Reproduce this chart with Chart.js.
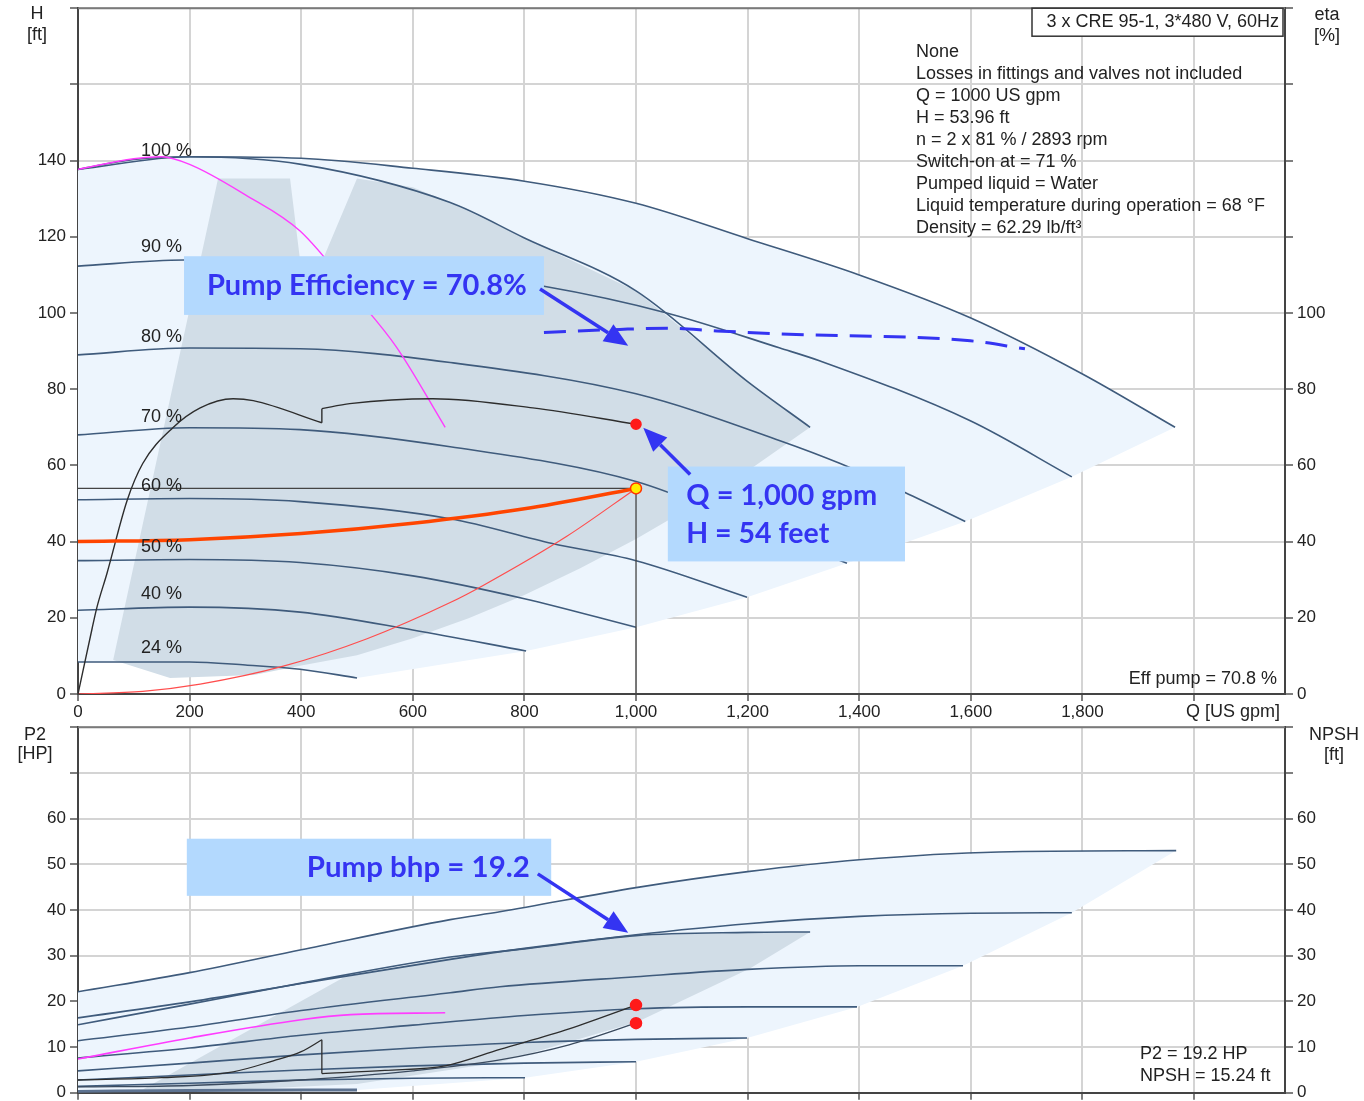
<!DOCTYPE html>
<html>
<head>
<meta charset="utf-8">
<script src="https://cdn.jsdelivr.net/npm/chart.js@4.4.0/dist/chart.umd.min.js"></script>
<style>
body{margin:0;background:#fff;width:1364px;height:1101px;overflow:hidden;position:relative}
#topChart{position:absolute;left:0;top:-6px}
#botChart{position:absolute;left:0;top:713px}
</style>
</head>
<body>
<canvas id="topChart" width="1364" height="731"></canvas>
<canvas id="botChart" width="1364" height="394"></canvas>
<script>
const FONT = '"Liberation Sans", Arial, sans-serif';
const ANNO_FONT = 'bold 28px Lato, "Open Sans", sans-serif';

// axes / ticks
const qMax = 2163;
const qGrid = [0,200,400,600,800,1000,1200,1400,1600,1800,2000];
const qLabels = [0,200,400,600,800,1000,1200,1400,1600,1800];
const hGrid = [0,20,40,60,80,100,120,140,160,180];
const hLabels = [0,20,40,60,80,100,120,140];
const etaLabels = [0,20,40,60,80,100];
const pGrid = [0,10,20,30,40,50,60,70,80];
const pLabels = [0,10,20,30,40,50,60];

// ---- head curves (Q in US gpm, H in ft) ----
const qH100 = [0,100,200,400,600,800,1000,1200,1400,1600,1800,1966];
const hH100 = [137.7,140.3,141,140.6,138,134.6,128.8,119.5,110,98.7,84,70];
const qH2p = [0,200,400,667,800,1000,1200,1312];
const hH2p = [137.7,141,139,129,119.7,105.8,82,70];
const qH1p = [0,100,150,200,300,398,500,571,658];
const hH1p = [137.7,140.5,141,139,131,121.5,104,91,70];
const qH90 = [0,190,400,600,835,1055,1258,1330,1599,1781];
const hH90 = [112.3,113.9,113.5,111.5,107,100,90.8,87.4,71.7,57];
const qH80 = [0,200,398,667,1000,1258,1366,1482,1590];
const hH80 = [89,90.8,90.6,87,78.8,66.5,60.5,52.9,45.3];
const qH70 = [0,200,398,667,1000,1200,1378];
const hH70 = [68,69.9,69.4,64.9,55.8,44.6,34.3];
const qH60 = [0,200,398,667,850,1000,1199];
const hH60 = [51,51.3,50.5,46,39.5,35,25.4];
const qH50 = [0,200,398,600,800,1000];
const hH50 = [35,35.3,34.5,31,25,17.5];
const qH40 = [0,200,398,600,803];
const hH40 = [22,22.8,21.5,16.8,11.3];
const qH24 = [0,200,300,398,500];
const hH24 = [8.4,8.4,7.6,6.5,4.2];

// efficiency (eta %) with switch-on notch
const qEtaA = [0,25,34,52,88,116,170,219,278,314,437];
const etaA = [0,17,22.8,31.7,50.8,60.5,69.9,75.1,77.5,77,71.2];
const qEtaB = [437,487,636,815,1000];
const etaB = [74.9,76.2,77.5,75.1,70.8];
const qEtaJump = [437,437];
const etaJump = [71.2,74.9];

// system curve and control curve
const qSys = [0,116,219,368,518,667,726,876,1000];
const hSys = [0,0.7,2.6,7.3,14.5,24,28.5,41.4,53.96];
const qCtl = [0,200,400,600,800,1000];
const hCtl = [40,40.5,42.1,44.8,48.6,53.96];

// duty point
const qDuty = 1000, hDuty = 53.96, etaDuty = 70.8, p2Duty = 19.2, npshDuty = 15.24;
const qDutyLine = [0,1000,1000];
const hDutyLine = [53.96,53.96,0];

// hand drawn eta marker (dashed)
const qEtaDash = [835,971,1056,1145,1258,1599,1697];
const etaDash = [94.9,95.7,96,95.3,94.5,92.7,90.6];

// shaded ranges
const qRangeAll = [0,100,200,400,600,800,1000,1200,1400,1600,1800,1966,1781,1590,1378,1199,1000,803,500,398,300,200,0];
const hRangeAll = [137.7,140.3,141,140.6,138,134.6,128.8,119.5,110,98.7,84,70,57,45.3,34.3,25.4,17.5,11.3,4.2,6.5,7.6,8.4,8.4];
const qRange2p = [63,251,380,407,500,600,667,800,1000,1200,1312,1200,1100,1000,900,800,700,600,500,400,315,165];
const hRange2p = [8.9,135.3,135.3,103,135.3,133,129,119.7,105.8,82,70,58.5,49.2,40.7,33,26,19.9,14.6,10.2,7.5,5,4.2];

const speedLabels = ['100 %','90 %','80 %','70 %','60 %','50 %','40 %','24 %'];
const speedLabelH = [142.4,117.3,93.7,72.8,54.5,38.7,26.2,12];
const speedLabelQ = 113;

// ---- power curves (P2 in HP) ----
const qP100 = [0,200,400,667,756,1000,1200,1400,1650,1968];
const pP100 = [22.1,26.3,31.3,37.9,39.6,44.9,48.4,51,52.7,53];
const qP90 = [0,200,400,667,800,1000,1200,1400,1600,1781];
const pP90 = [16.4,19.9,23.9,29.2,31.6,34.6,37,38.6,39.3,39.4];
const qP2p = [0,200,400,667,800,1000,1200,1312];
const pP2p = [14.9,19.4,24,29.7,31.5,34.4,35.1,35.2];
const qP80 = [0,200,400,667,756,1000,1200,1400,1586];
const pP80 = [11.4,14.4,18,21.9,23.2,25.4,27,27.8,27.8];
const qP70 = [0,200,400,600,800,1000,1200,1396];
const pP70 = [7.6,9.8,12.6,14.8,16.9,18.4,18.8,18.8];
const qP60 = [0,200,400,600,800,1000,1199];
const pP60 = [4.8,6.5,8.3,9.8,11,11.7,12];
const qP50 = [0,200,400,600,800,1000];
const pP50 = [2.8,3.9,5,5.9,6.5,6.8];
const qP40 = [0,200,400,600,801];
const pP40 = [1.4,2.1,2.8,3.2,3.3];
const qP24 = [0,200,400,500];
const pP24 = [0.3,0.5,0.6,0.6];
const qP1p = [0,200,400,489,658];
const pP1p = [7.4,12,16,17.1,17.5];
const qP2opA = [0,150,278,350,400,437];
const pP2opA = [2.8,3.3,4.6,7,9,11.6];
const qP2opB = [437,550,658,756,880,1000];
const pP2opB = [4.2,4.9,5.9,9.5,14,19.2];
const qP2opJump = [437,437];
const pP2opJump = [11.6,4.2];
const qNpsh = [0,200,400,600,756,880,1000];
const npsh = [1.3,1.6,2.8,4.8,7.2,10.5,15.24];

const qPRangeAll = [0,200,400,667,756,1000,1200,1400,1650,1968,1781,1586,1396,1199,1000,801,500,400,200,0];
const pPRangeAll = [22.1,26.3,31.3,37.9,39.6,44.9,48.4,51,52.7,53,39.4,27.8,18.8,12,6.8,3.3,0.6,0.6,0.5,0.3];
const qPRange2p = [116,475,667,800,1000,1200,1312,1204,1002,756,500,300];
const pPRange2p = [0.7,25.2,29.7,31.5,34.4,35.1,35.2,27.2,15.5,6.7,1.9,0.8];

const infoTitle = '3 x CRE 95-1, 3*480 V, 60Hz';
const infoLines = ['None','Losses in fittings and valves not included','Q = 1000 US gpm','H = 53.96 ft',
  'n = 2 x 81 % / 2893 rpm','Switch-on at = 71 %','Pumped liquid = Water',
  'Liquid temperature during operation = 68 °F','Density = 62.29 lb/ft³'];

// colours
const cLight = '#edf5fd', cGray = '#d1dde7', cCurve = '#3f5b7c', cPink = '#ff3cff';
const cSys = '#ff4d4d', cCtl = '#ff4500', cBlack = '#2d2d2d', cAnno = '#3434f2', cBox = '#b3d9fe';

function zip(qs, vs){ return qs.map((q,i)=>({x:q, y:vs[i]})); }

function curve(qs, vs, color, width, extra){
  return Object.assign({data: zip(qs,vs), borderColor: color, borderWidth: width, pointRadius: 0,
    fill: false, cubicInterpolationMode: 'monotone', order: 10}, extra || {});
}
function straight(qs, vs, color, width, extra){
  return Object.assign({data: zip(qs,vs), borderColor: color, borderWidth: width, pointRadius: 0,
    fill: false, tension: 0, order: 6}, extra || {});
}
function region(qs, vs, color, order){
  return {data: zip(qs,vs), borderColor: 'rgba(0,0,0,0)', borderWidth: 0, backgroundColor: color,
    pointRadius: 0, fill: 'shape', tension: 0, order: order};
}
function dot(q, v, fillC, strokeC, r){
  return {data: [{x:q, y:v}], showLine: false, pointRadius: r, pointBackgroundColor: fillC,
    pointBorderColor: strokeC, pointBorderWidth: 1.5, order: 0};
}

function arrow(ctx, x1, y1, x2, y2){
  const a = Math.atan2(y2-y1, x2-x1), L = 24, W = 10;
  const bx = x2 - L*Math.cos(a), by = y2 - L*Math.sin(a);
  ctx.beginPath(); ctx.moveTo(x1,y1); ctx.lineTo(bx,by); ctx.stroke();
  ctx.beginPath(); ctx.moveTo(x2,y2);
  ctx.lineTo(bx + W*Math.sin(a), by - W*Math.cos(a));
  ctx.lineTo(bx - W*Math.sin(a), by + W*Math.cos(a));
  ctx.closePath(); ctx.fill();
}
// bold label squeezed to the width it has in the picture
function fitText(ctx, s, x, y, w){
  ctx.font = ANNO_FONT;
  const m = ctx.measureText(s).width;
  ctx.save(); ctx.translate(x, y); ctx.scale(w/m, 1); ctx.fillText(s, 0, 0); ctx.restore();
}
function box(ctx, x, y, q0, q1, v0, v1){
  const l = x.getPixelForValue(q0), r = x.getPixelForValue(q1);
  const t = y.getPixelForValue(v0), b = y.getPixelForValue(v1);
  ctx.fillStyle = cBox; ctx.fillRect(l, t, r-l, b-t);
}

function axisCfg(grid, labels, pos, width, showGrid){
  return {
    type: 'linear', position: pos, min: grid[0], max: grid[grid.length-1],
    afterBuildTicks: s => { s.ticks = grid.map(v => ({value: v})); },
    afterFit: s => { s.width = width; },
    ticks: {font: {family: FONT, size: 17}, color: '#222', padding: 4,
      callback: v => labels.includes(v) ? String(v) : ''},
    grid: {display: true, drawOnChartArea: showGrid, color: '#d4d4d4', lineWidth: 2,
      tickLength: 8, tickColor: '#555', tickWidth: 1.5},
    border: {display: true, color: '#444', width: 2}
  };
}
function xCfg(height, showLabels){
  return {
    type: 'linear', position: 'bottom', min: 0, max: qMax,
    afterBuildTicks: s => { s.ticks = qGrid.map(v => ({value: v})); },
    afterFit: s => { s.height = height; },
    ticks: {font: {family: FONT, size: 17}, color: '#222', padding: 1, maxRotation: 0, autoSkip: false,
      callback: v => (showLabels && qLabels.includes(v)) ? v.toLocaleString('en-US') : ''},
    grid: {color: '#d4d4d4', lineWidth: 2, tickLength: 7, tickColor: '#555', tickWidth: 1.5},
    border: {display: true, color: '#444', width: 2}
  };
}

const topDecor = {
  id: 'topDecor',
  afterDraw(chart){
    const {ctx, chartArea: a} = chart;
    const x = chart.scales.x, y = chart.scales.y;
    ctx.save();
    ctx.strokeStyle = '#7a7a7a'; ctx.lineWidth = 2;
    ctx.beginPath(); ctx.moveTo(a.left, a.top); ctx.lineTo(a.right, a.top); ctx.stroke();

    ctx.fillStyle = '#222'; ctx.font = '18px ' + FONT; ctx.textBaseline = 'middle'; ctx.textAlign = 'left';
    speedLabels.forEach((s,i) => ctx.fillText(s, x.getPixelForValue(speedLabelQ), y.getPixelForValue(speedLabelH[i])));

    // info block
    ctx.fillStyle = '#fff'; ctx.fillRect(a.right-253, a.top, 251, 28);
    ctx.strokeStyle = '#333'; ctx.lineWidth = 1.5; ctx.strokeRect(a.right-253, a.top, 251, 28);
    ctx.fillStyle = '#222'; ctx.textAlign = 'right';
    ctx.fillText(infoTitle, a.right-6, a.top+14);
    ctx.textAlign = 'left';
    infoLines.forEach((s,i) => ctx.fillText(s, a.right-369, a.top+44+22*i));
    ctx.textAlign = 'right';
    ctx.fillText('Eff pump = 70.8 %', a.right-8, a.bottom-15);
    ctx.fillText('Q [US gpm]', a.right-5, a.bottom+18);
    ctx.textAlign = 'center';
    ctx.fillText('H', 37, a.top+6); ctx.fillText('[ft]', 37, a.top+27);
    ctx.fillText('eta', 1327, a.top+7); ctx.fillText('[%]', 1327, a.top+28);

    // annotations
    box(ctx, x, y, 190, 835, 114.9, 99.5);
    box(ctx, x, y, 1057, 1482, 59.7, 34.8);
    ctx.fillStyle = cAnno; ctx.textAlign = 'left';
    fitText(ctx, 'Pump Efficiency = 70.8%', x.getPixelForValue(231), y.getPixelForValue(107.1), 320);
    fitText(ctx, 'Q = 1,000 gpm', x.getPixelForValue(1090), y.getPixelForValue(52.1), 191);
    fitText(ctx, 'H = 54 feet', x.getPixelForValue(1090), y.getPixelForValue(42.1), 143);
    ctx.strokeStyle = cAnno; ctx.lineWidth = 3.5;
    arrow(ctx, x.getPixelForValue(828), y.getPixelForValue(106.3), x.getPixelForValue(986), y.getPixelForValue(91.4));
    arrow(ctx, x.getPixelForValue(1097), y.getPixelForValue(57.6), x.getPixelForValue(1013), y.getPixelForValue(69.9));
    ctx.restore();
  }
};

const botDecor = {
  id: 'botDecor',
  afterDraw(chart){
    const {ctx, chartArea: a} = chart;
    const x = chart.scales.x, y = chart.scales.y;
    ctx.save();
    ctx.strokeStyle = '#7a7a7a'; ctx.lineWidth = 2;
    ctx.beginPath(); ctx.moveTo(a.left, a.top); ctx.lineTo(a.right, a.top); ctx.stroke();
    ctx.fillStyle = '#222'; ctx.font = '18px ' + FONT; ctx.textBaseline = 'middle'; ctx.textAlign = 'center';
    ctx.fillText('P2', 35, a.top+8); ctx.fillText('[HP]', 35, a.top+27);
    ctx.fillText('NPSH', 1334, a.top+8); ctx.fillText('[ft]', 1334, a.top+28);
    ctx.textAlign = 'left';
    ctx.fillText('P2 = 19.2 HP', a.right-145, a.bottom-39);
    ctx.fillText('NPSH = 15.24 ft', a.right-145, a.bottom-17);

    box(ctx, x, y, 195, 848, 55.6, 43.1);
    ctx.fillStyle = cAnno;
    fitText(ctx, 'Pump bhp = 19.2', x.getPixelForValue(410), y.getPixelForValue(49.2), 223);
    ctx.strokeStyle = cAnno; ctx.lineWidth = 3.5;
    arrow(ctx, x.getPixelForValue(824), y.getPixelForValue(47.9), x.getPixelForValue(986), y.getPixelForValue(35));
    ctx.restore();
  }
};

const common = {
  responsive: false, animation: false, events: [],
  plugins: {legend: {display: false}, tooltip: {enabled: false}},
};

new Chart(document.getElementById('topChart'), {
  type: 'line',
  data: {datasets: [
    region(qRangeAll, hRangeAll, cLight, 30),
    region(qRange2p, hRange2p, cGray, 29),
    curve(qH100, hH100, cCurve, 1.6),
    curve(qH2p, hH2p, cCurve, 1.6),
    curve(qH90, hH90, cCurve, 1.6),
    curve(qH80, hH80, cCurve, 1.6),
    curve(qH70, hH70, cCurve, 1.6),
    curve(qH60, hH60, cCurve, 1.6),
    curve(qH50, hH50, cCurve, 1.6),
    curve(qH40, hH40, cCurve, 1.6),
    curve(qH24, hH24, cCurve, 1.6),
    curve(qH1p, hH1p, cPink, 1.4, {order: 8}),
    curve(qSys, hSys, cSys, 1.2, {order: 7}),
    straight(qDutyLine, hDutyLine, '#444', 1.3),
    curve(qCtl, hCtl, cCtl, 3.5, {order: 5}),
    curve(qEtaA, etaA, cBlack, 1.4, {order: 5, yAxisID: 'y2'}),
    straight(qEtaJump, etaJump, cBlack, 1.4, {yAxisID: 'y2'}),
    curve(qEtaB, etaB, cBlack, 1.4, {order: 5, yAxisID: 'y2'}),
    curve(qEtaDash, etaDash, cAnno, 3, {order: 4, yAxisID: 'y2', borderDash: [22,12]}),
    dot(qDuty, etaDuty, '#ff1a1a', '#ff1a1a', 5),
    dot(qDuty, hDuty, '#ffee00', '#ff3300', 5.5)
  ]},
  options: Object.assign({}, common, {
    layout: {padding: {top: 2, left: 0, right: 0, bottom: 0}, autoPadding: false},
    scales: {
      x: xCfg(31, true),
      y: axisCfg(hGrid, hLabels, 'left', 78, true),
      y2: axisCfg(hGrid, etaLabels, 'right', 79, false)
    }
  }),
  plugins: [topDecor]
});

new Chart(document.getElementById('botChart'), {
  type: 'line',
  data: {datasets: [
    region(qPRangeAll, pPRangeAll, cLight, 30),
    region(qPRange2p, pPRange2p, cGray, 29),
    curve(qP100, pP100, cCurve, 1.6),
    curve(qP90, pP90, cCurve, 1.6),
    curve(qP2p, pP2p, cCurve, 1.6),
    curve(qP80, pP80, cCurve, 1.6),
    curve(qP70, pP70, cCurve, 1.6),
    curve(qP60, pP60, cCurve, 1.6),
    curve(qP50, pP50, cCurve, 1.6),
    curve(qP40, pP40, cCurve, 1.6),
    curve(qP24, pP24, '#5d7391', 3),
    curve(qP1p, pP1p, cPink, 1.6, {order: 8}),
    curve(qP2opA, pP2opA, cBlack, 1.3, {order: 5}),
    straight(qP2opJump, pP2opJump, cBlack, 1.3),
    curve(qP2opB, pP2opB, cBlack, 1.3, {order: 5}),
    curve(qNpsh, npsh, '#3a4a5e', 1.3, {order: 5, yAxisID: 'y2'}),
    dot(qDuty, p2Duty, '#ff1a1a', '#ff1a1a', 5.5),
    dot(qDuty, npshDuty, '#ff1a1a', '#ff1a1a', 5.5)
  ]},
  options: Object.assign({}, common, {
    layout: {padding: {top: 0, left: 0, right: 0, bottom: 0}, autoPadding: false},
    scales: {
      x: xCfg(8, false),
      y: axisCfg(pGrid, pLabels, 'left', 78, true),
      y2: axisCfg(pGrid, pLabels, 'right', 79, false)
    }
  }),
  plugins: [botDecor]
});
</script>
</body>
</html>
